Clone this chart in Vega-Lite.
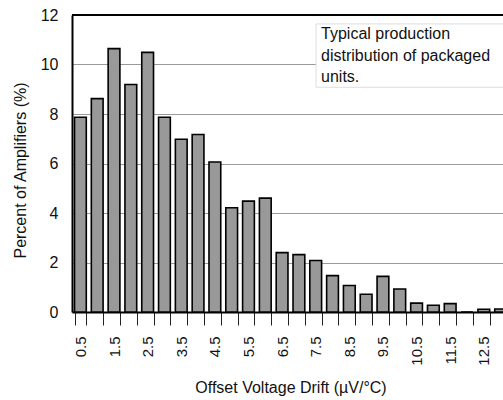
{
  "$schema": "https://vega.github.io/schema/vega-lite/v6.json",
  "width": 431,
  "height": 297,
  "autosize": {"type": "none"},
  "padding": {"left": 72, "top": 15, "right": 0, "bottom": 88},
  "background": "white",
  "config": {
    "view": {"stroke": null},
    "font": "Liberation Sans",
    "axis": {"labelFont": "Liberation Sans", "titleFont": "Liberation Sans", "labelColor": "#111", "titleColor": "#111", "titleFontWeight": "normal"}
  },
  "datasets": {
    "hist": [
      {"drift": 0.5, "pct": 7.87},
      {"drift": 1.0, "pct": 8.62},
      {"drift": 1.5, "pct": 10.64},
      {"drift": 2.0, "pct": 9.19},
      {"drift": 2.5, "pct": 10.49},
      {"drift": 3.0, "pct": 7.87},
      {"drift": 3.5, "pct": 6.98},
      {"drift": 4.0, "pct": 7.17},
      {"drift": 4.5, "pct": 6.06},
      {"drift": 5.0, "pct": 4.21},
      {"drift": 5.5, "pct": 4.48},
      {"drift": 6.0, "pct": 4.6},
      {"drift": 6.5, "pct": 2.4},
      {"drift": 7.0, "pct": 2.32},
      {"drift": 7.5, "pct": 2.08},
      {"drift": 8.0, "pct": 1.47},
      {"drift": 8.5, "pct": 1.07},
      {"drift": 9.0, "pct": 0.72},
      {"drift": 9.5, "pct": 1.44},
      {"drift": 10.0, "pct": 0.93},
      {"drift": 10.5, "pct": 0.36},
      {"drift": 11.0, "pct": 0.27},
      {"drift": 11.5, "pct": 0.34},
      {"drift": 12.0, "pct": 0.0},
      {"drift": 12.5, "pct": 0.11},
      {"drift": 13.0, "pct": 0.12}
    ],
    "one": [{"note": "Typical production distribution of packaged units."}]
  },
  "layer": [
    {
      "data": {"name": "hist"},
      "mark": {"type": "bar", "fill": "#999999", "stroke": "#000", "strokeWidth": 1.6},
      "encoding": {
        "x": {
          "field": "drift",
          "type": "ordinal",
          "sort": "ascending",
          "scale": {"paddingInner": 0.3, "paddingOuter": 0.15, "rangeMax": 437},
          "axis": {
            "title": "Offset Voltage Drift (µV/°C)",
            "titleFontSize": 16,
            "titleX": 218.5,
            "titleY": 80,
            "titleBaseline": "alphabetic",
            "labelAngle": -90,
            "labelFontSize": 15,
            "labelPadding": 11,
            "labelExpr": "indexof(datum.label, '.') >= 0 ? datum.label : ''",
            "tickBand": "extent",
            "tickSize": 13,
            "tickColor": "#222",
            "tickWidth": 1,
            "domainColor": "#000",
            "domainWidth": 2,
            "grid": false
          }
        },
        "y": {
          "field": "pct",
          "type": "quantitative",
          "scale": {"domain": [0, 12], "nice": false},
          "axis": {
            "title": "Percent of Amplifiers (%)",
            "titleFontSize": 16,
            "titleX": -52,
            "titleY": 155,
            "titleBaseline": "middle",
            "titleAnchor": "middle",
            "labelFontSize": 16,
            "labelPadding": 14,
            "values": [0, 2, 4, 6, 8, 10, 12],
            "ticks": false,
            "grid": true,
            "gridColor": "#9a9a9a",
            "gridWidth": 1,
            "domainColor": "#000",
            "domainWidth": 2
          }
        }
      }
    },
    {
      "data": {"name": "one"},
      "mark": {"type": "rule", "color": "#000", "strokeWidth": 2},
      "encoding": {"y": {"datum": 12, "type": "quantitative"}}
    },
    {
      "data": {"name": "one"},
      "mark": {"type": "rect", "fill": "white", "stroke": "#dddddd", "strokeWidth": 1},
      "encoding": {
        "x": {"datum": 7.5, "type": "ordinal", "bandPosition": 0.53},
        "x2": {"datum": 13.0, "bandPosition": 1},
        "y": {"datum": 11.64, "type": "quantitative"},
        "y2": {"datum": 9.08}
      }
    },
    {
      "data": {"name": "one"},
      "mark": {"type": "text", "align": "left", "baseline": "alphabetic", "fontSize": 16, "lineHeight": 21.5, "color": "#111", "font": "Liberation Sans", "dx": 5},
      "encoding": {
        "x": {"datum": 7.5, "type": "ordinal", "bandPosition": 0.53},
        "y": {"datum": 11.02, "type": "quantitative"},
        "text": {"value": ["Typical production", "distribution of packaged", "units."]}
      }
    }
  ]
}
